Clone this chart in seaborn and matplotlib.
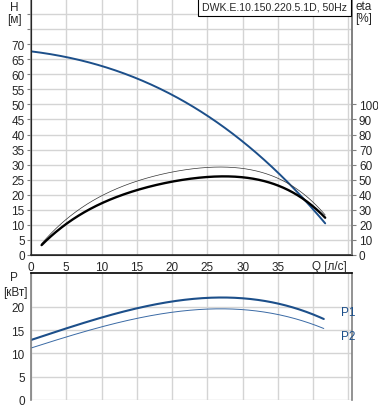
import matplotlib
matplotlib.use('Agg')
import matplotlib.pyplot as plt
import numpy as np
import seaborn as sns

q_h = [0, 5, 10, 15, 20, 25, 30, 35, 40, 41.7]
head = [67.8, 65.6, 62.5, 58.3, 53.6, 46.8, 37.9, 26.1, 15.6, 10.6]

q_eta = [1.5, 5, 10, 15, 20, 22.5, 27, 30, 35, 38, 40, 41.7]
eta_thick = [6.6, 20.6, 34.3, 43.1, 48.6, 50.9, 52.0, 51.6, 46.0, 39.3, 32.3, 24.6]
eta_thin = [6.6, 25.7, 38.3, 48.6, 54.9, 57.0, 59.0, 58.0, 50.9, 42.3, 33.8, 27.7]

q_p = [0, 5, 10, 15, 20, 22.5, 27, 30, 35, 41.5]
p1 = [12.9, 15.4, 17.7, 19.7, 21.2, 21.7, 22.0, 21.8, 20.8, 17.4]
p2 = [11.2, 13.5, 15.7, 17.6, 18.8, 19.3, 19.7, 19.4, 18.3, 15.4]

title = 'DWK.E.10.150.220.5.1D, 50Hz'

sns.set_style('white')
plt.rcParams['font.family'] = ['Liberation Sans', 'DejaVu Sans']
plt.rcParams['font.size'] = 7.5

blue = '#1c4f8a'
grid_c = '#d4d4d4'
spine_c = '#808080'


def smooth(x, y, deg=3, n=300):
    # least-squares polynomial through the read points, like a pump curve
    coef = np.polyfit(x, y, deg)
    xs = np.linspace(min(x), max(x), n)
    return xs, np.polyval(coef, xs)


fig = plt.figure(figsize=(3.78, 4.10), dpi=100)
ax = fig.add_axes([31 / 378, 1 - 256 / 410, 321 / 378, 256 / 410])
ax2 = ax.twinx()
axp = fig.add_axes([31 / 378, 9 / 410, 321 / 378, 127 / 410])

xs, ys = smooth(q_h, head, 3)
sns.lineplot(x=xs, y=ys, ax=ax, color=blue, lw=1.4)
xs, ys = smooth(q_eta, eta_thin, 4)
sns.lineplot(x=xs, y=ys, ax=ax2, color='#333333', lw=0.5)
xs, ys = smooth(q_eta, eta_thick, 4)
sns.lineplot(x=xs, y=ys, ax=ax2, color='black', lw=1.7)

xs, ys = smooth(q_p, p1, 3)
sns.lineplot(x=xs, y=ys, ax=axp, color=blue, lw=1.5)
xs, ys = smooth(q_p, p2, 3)
sns.lineplot(x=xs, y=ys, ax=axp, color='#3a6aa5', lw=0.7)

for a in (ax, axp):
    a.set_xlim(0, 45.5)
    a.set_xticks(np.arange(0, 46, 5))
    a.grid(True, color=grid_c, lw=1)
    a.set_axisbelow(True)
    for s in a.spines.values():
        s.set_color(spine_c)
        s.set_linewidth(1.2)

ax.set_ylim(0, 85)
ax.set_yticks(np.arange(0, 85, 5))
ax.set_yticklabels([str(v) if v <= 70 else '' for v in range(0, 85, 5)])
ax.set_xticklabels([str(v) if v <= 35 else '' for v in range(0, 46, 5)])
ax.spines['top'].set_visible(False)
ax.spines['bottom'].set_color('#303030')
ax.tick_params(axis='both', length=3, width=0.8, color=spine_c, pad=1.5, labelsize=8.5)

ax2.set_ylim(0, 170)
ax2.set_yticks(np.arange(0, 101, 10))
ax2.tick_params(axis='y', length=3, width=0.8, color=spine_c, pad=2, labelsize=8.5)
ax2.spines['top'].set_visible(False)
ax2.spines['right'].set_color(spine_c)
ax2.spines['right'].set_linewidth(1.2)
ax2.set_ylabel('')

axp.set_ylim(0, 27.3)
axp.set_yticks(np.arange(0, 21, 5))
axp.set_xticklabels([])
axp.tick_params(axis='both', length=3, width=0.8, color=spine_c, pad=1.5, labelsize=8.5)
axp.spines['top'].set_color('black')
axp.spines['bottom'].set_visible(False)

# axis captions
fig.text(14 / 378, 1 - 8 / 410, 'H', ha='center', va='center', fontsize=8.5)
fig.text(14 / 378, 1 - 20 / 410, '[м]', ha='center', va='center', fontsize=8.5)
fig.text(364 / 378, 1 - 7 / 410, 'eta', ha='center', va='center', fontsize=8.5)
fig.text(364 / 378, 1 - 19 / 410, '[%]', ha='center', va='center', fontsize=8.5)
fig.text(14 / 378, 1 - 278 / 410, 'P', ha='center', va='center', fontsize=8.5)
fig.text(15 / 378, 1 - 293 / 410, '[кВт]', ha='center', va='center', fontsize=8.5)
fig.text(347 / 378, 1 - 267 / 410, 'Q [л/с]', ha='right', va='center', fontsize=8.5)
fig.text(341 / 378, 1 - 313 / 410, 'P1', ha='left', va='center', fontsize=8.5, color=blue)
fig.text(341 / 378, 1 - 337 / 410, 'P2', ha='left', va='center', fontsize=8.5, color=blue)

fig.text(347 / 378, 1 - 8 / 410, title, ha='right', va='center', fontsize=7.6,
         bbox=dict(boxstyle='square,pad=0.35', fc='white', ec='black', lw=0.8))

fig.savefig('out.png', dpi=100)
